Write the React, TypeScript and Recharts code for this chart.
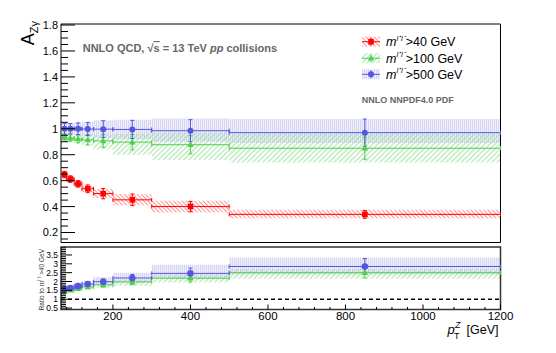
import React from 'react';
import { ComposedChart, Scatter, ErrorBar, XAxis, YAxis, ReferenceArea, ReferenceLine } from 'recharts';

// pT^Z bins [GeV]
const binLo = [70, 80, 100, 120, 150, 200, 300, 500];
const binHi = [80, 100, 120, 150, 200, 300, 500, 1200];
const binMid = [75, 90, 110, 135, 175, 250, 400, 850];

// A_Zgamma, top panel
const m40 = [0.647, 0.612, 0.575, 0.537, 0.5, 0.452, 0.4, 0.34];
const m40Err = [0.025, 0.025, 0.025, 0.03, 0.04, 0.045, 0.04, 0.03];
const m40BandLo = [0.62, 0.585, 0.55, 0.51, 0.465, 0.41, 0.355, 0.31];
const m40BandHi = [0.675, 0.64, 0.6, 0.565, 0.535, 0.495, 0.445, 0.375];

const m100 = [0.933, 0.928, 0.922, 0.915, 0.907, 0.897, 0.877, 0.85];
const m100Err = [0.02, 0.025, 0.03, 0.04, 0.05, 0.06, 0.07, 0.085];
const m100BandLo = [0.9, 0.895, 0.885, 0.87, 0.84, 0.8, 0.76, 0.74];
const m100BandHi = [0.955, 0.955, 0.955, 0.955, 0.955, 0.96, 0.97, 0.96];

const m500 = [1.0, 1.0, 1.0, 0.998, 0.997, 0.995, 0.985, 0.97];
const m500Err = [0.04, 0.04, 0.045, 0.05, 0.065, 0.07, 0.085, 0.105];
const m500BandLo = [0.96, 0.955, 0.95, 0.94, 0.93, 0.92, 0.9, 0.89];
const m500BandHi = [1.04, 1.045, 1.05, 1.055, 1.065, 1.07, 1.08, 1.075];

// ratio to m_ll > 40 GeV, bottom panel
const r100 = [1.44, 1.51, 1.6, 1.7, 1.81, 1.98, 2.19, 2.5];
const r100Err = [0.06, 0.07, 0.08, 0.1, 0.12, 0.15, 0.22, 0.3];
const r100BandLo = [1.3, 1.38, 1.45, 1.55, 1.65, 1.75, 1.95, 2.15];
const r100BandHi = [1.55, 1.62, 1.72, 1.82, 1.95, 2.1, 2.4, 2.7];

const r500 = [1.55, 1.63, 1.74, 1.86, 1.99, 2.2, 2.46, 2.85];
const r500Err = [0.08, 0.08, 0.1, 0.12, 0.15, 0.2, 0.3, 0.45];
const r500BandLo = [1.4, 1.45, 1.55, 1.65, 1.8, 1.95, 2.15, 2.4];
const r500BandHi = [1.7, 1.8, 1.95, 2.05, 2.25, 2.5, 2.95, 3.35];

// axis ticks
const xMajor = [200, 400, 600, 800, 1000, 1200];
const topYMajor = [0.2, 0.4, 0.6, 0.8, 1, 1.2, 1.4, 1.6, 1.8];
const ratioYMajor = [0.5, 1, 1.5, 2, 2.5, 3, 3.5];

const X_DOM: [number, number] = [66, 1200];
const TOP_DOM: [number, number] = [0.123, 1.808];
const RAT_DOM: [number, number] = [0.42, 3.95];

const FONT = "'Liberation Sans', Arial, Helvetica, sans-serif";
const RED = '#ff0000';
const GREEN = '#4fcf4f';
const BLUE = '#5555dd';
const TM = 3;

const stepTicks = (lo: number, hi: number, step: number) => {
  const out: number[] = [];
  for (let v = Math.ceil(lo / step - 1e-6) * step; v <= hi + 1e-9; v += step) out.push(+v.toFixed(4));
  return out;
};
const isMajor = (majors: number[], v: number) => majors.some((m) => Math.abs(m - v) < 1e-6);

const toRows = (vals: number[], errs: number[]) =>
  binMid.map((x, i) => ({ x, y: vals[i], ex: [x - binLo[i], binHi[i] - x], ey: errs[i] }));

const yTick = (majors: number[], majLen: number, minLen: number, fs: number) => (p: any) => {
  const v = p.payload.value;
  const major = isMajor(majors, v);
  const ax = p.x + TM;
  return (
    <g>
      <line x1={ax} x2={ax + (major ? majLen : minLen)} y1={p.y} y2={p.y} stroke="#000" strokeWidth={1} />
      {major && (
        <text x={ax - 3} y={p.y} dy="0.36em" textAnchor="end" fontSize={fs} fontFamily={FONT} fill="#000">
          {String(v)}
        </text>
      )}
    </g>
  );
};

const xTick = (labels: boolean) => (p: any) => {
  const v = p.payload.value;
  const major = isMajor(xMajor, v);
  const ay = p.y - TM;
  return (
    <g>
      <line x1={p.x} x2={p.x} y1={ay} y2={ay - (major ? 5 : 2.5)} stroke="#000" strokeWidth={1} />
      {labels && major && (
        <text x={p.x} y={ay + 10} textAnchor="middle" fontSize={11.5} fontFamily={FONT} fill="#000">
          {v}
        </text>
      )}
    </g>
  );
};

const square = (c: string) => (p: any) => <rect x={p.cx - 2.8} y={p.cy - 2.8} width={5.6} height={5.6} fill={c} />;
const triangle = (c: string) => (p: any) => (
  <polygon points={`${p.cx},${p.cy - 3.4} ${p.cx - 3.2},${p.cy + 2.3} ${p.cx + 3.2},${p.cy + 2.3}`} fill={c} />
);
const circle = (c: string, r: number) => (p: any) => <circle cx={p.cx} cy={p.cy} r={r} fill={c} />;

const bands = (lo: number[], hi: number[], fill: string, key: string) =>
  binLo.map((x1, i) => (
    <ReferenceArea key={key + i} x1={x1} x2={binHi[i]} y1={lo[i]} y2={hi[i]} fill={fill} fillOpacity={1} stroke="none" />
  ));

const points = (rows: any[], color: string, shape: any) => (
  <Scatter data={rows} dataKey="y" isAnimationActive={false} shape={shape}>
    <ErrorBar dataKey="ex" direction="x" width={2} stroke={color} strokeWidth={1} />
    <ErrorBar dataKey="ey" direction="y" width={2} stroke={color} strokeWidth={1} />
  </Scatter>
);

const Patterns = () => (
  <svg width={0} height={0} style={{ position: 'absolute' }}>
    <defs>
      <pattern id="hRed" width={3} height={3} patternUnits="userSpaceOnUse" patternTransform="rotate(-45)">
        <line x1={1.5} y1={0} x2={1.5} y2={3} stroke="#ff8585" strokeWidth={0.9} />
      </pattern>
      <pattern id="hGreen" width={3.6} height={3.6} patternUnits="userSpaceOnUse" patternTransform="rotate(45)">
        <line x1={1.8} y1={0} x2={1.8} y2={3.6} stroke="#93dc93" strokeWidth={0.9} />
      </pattern>
      <pattern id="hBlue" width={2} height={2} patternUnits="userSpaceOnUse">
        <rect width={2} height={2} fill="#f0f0fc" />
        <line x1={0.5} y1={0} x2={0.5} y2={2} stroke="#d6d6f4" strokeWidth={1} />
      </pattern>
    </defs>
  </svg>
);

const TopPanel = () => (
  <ComposedChart width={556} height={246} margin={{ top: 24, right: 55.5, bottom: 3.5, left: 60 }}>
    <XAxis type="number" dataKey="x" domain={X_DOM} allowDataOverflow height={0} axisLine={false} tickLine={false} tick={false} />
    <YAxis
      type="number"
      dataKey="y"
      domain={TOP_DOM}
      allowDataOverflow
      width={1}
      axisLine={false}
      tickLine={false}
      tickSize={0}
      tickMargin={TM}
      interval={0}
      ticks={stepTicks(TOP_DOM[0], TOP_DOM[1], 0.05)}
      tick={yTick(topYMajor, 14, 7, 11)}
    />
    {bands(m500BandLo, m500BandHi, 'url(#hBlue)', 'b')}
    {bands(m100BandLo, m100BandHi, 'url(#hGreen)', 'g')}
    {bands(m40BandLo, m40BandHi, 'url(#hRed)', 'r')}
    {points(toRows(m40, m40Err), RED, square(RED))}
    {points(toRows(m100, m100Err), GREEN, triangle(GREEN))}
    {points(toRows(m500, m500Err), BLUE, circle(BLUE, 3))}
    <ReferenceArea x1={X_DOM[0]} x2={X_DOM[1]} y1={TOP_DOM[0]} y2={TOP_DOM[1]} fill="none" stroke="#000" strokeWidth={1} />
  </ComposedChart>
);

const RatioPanel = () => (
  <ComposedChart width={556} height={113} margin={{ top: 7, right: 55.5, bottom: 42.5, left: 60 }}>
    <XAxis
      type="number"
      dataKey="x"
      domain={X_DOM}
      allowDataOverflow
      height={1}
      axisLine={false}
      tickLine={false}
      tickSize={0}
      tickMargin={TM}
      interval={0}
      ticks={stepTicks(80, 1200, 40)}
      tick={xTick(true)}
    />
    <YAxis
      type="number"
      dataKey="y"
      domain={RAT_DOM}
      allowDataOverflow
      width={1}
      axisLine={false}
      tickLine={false}
      tickSize={0}
      tickMargin={TM}
      interval={0}
      ticks={stepTicks(RAT_DOM[0], RAT_DOM[1], 0.1)}
      tick={yTick(ratioYMajor, 11, 5, 8.5)}
    />
    {bands(r500BandLo, r500BandHi, 'url(#hBlue)', 'b')}
    {bands(r100BandLo, r100BandHi, 'url(#hGreen)', 'g')}
    <ReferenceLine y={1} stroke="#000" strokeWidth={1.4} strokeDasharray="4 3" />
    {points(toRows(r100, r100Err), GREEN, triangle(GREEN))}
    {points(toRows(r500, r500Err), BLUE, circle(BLUE, 3.3))}
    <ReferenceArea x1={X_DOM[0]} x2={X_DOM[1]} y1={RAT_DOM[0]} y2={RAT_DOM[1]} fill="none" stroke="#333" strokeWidth={1.5} />
  </ComposedChart>
);

const legendRows = [
  { y: 41.7, color: RED, fill: 'url(#hRed)', label: '>40 GeV', kind: 'sq' },
  { y: 58.3, color: GREEN, fill: 'url(#hGreen)', label: '>100 GeV', kind: 'tri' },
  { y: 74.3, color: BLUE, fill: 'url(#hBlue)', label: '>500 GeV', kind: 'circ' },
];

const Overlay = () => (
  <svg width={556} height={353} style={{ position: 'absolute', left: 0, top: 0, pointerEvents: 'none' }} fontFamily={FONT}>
    <g transform="translate(33.5,21) rotate(-90)">
      <text x={0} y={0} textAnchor="end" fontSize={18} fill="#000">
        A<tspan fontSize={11} dy={4.5}>Zγ</tspan>
      </text>
    </g>
    <text x={82.7} y={52} fontSize={11} fontWeight="bold" fill="#666">
      NNLO QCD,{'  '}√<tspan textDecoration="overline">s</tspan> = 13 TeV{'  '}
      <tspan fontStyle="italic">pp</tspan> collisions
    </text>
    <text x={361.7} y={103} fontSize={9} fontWeight="bold" fill="#666">
      NNLO NNPDF4.0 PDF
    </text>
    {legendRows.map((r) => (
      <g key={r.label}>
        <rect x={362} y={r.y - 5} width={18} height={10} fill={r.fill} />
        <line x1={362} x2={380} y1={r.y} y2={r.y} stroke={r.color} strokeWidth={1} />
        <line x1={371} x2={371} y1={r.y - 4} y2={r.y + 4} stroke={r.color} strokeWidth={1} />
        {r.kind === 'sq' && <rect x={368.2} y={r.y - 2.8} width={5.6} height={5.6} fill={r.color} />}
        {r.kind === 'tri' && (
          <polygon points={`371,${r.y - 3.4} 367.8,${r.y + 2.3} 374.2,${r.y + 2.3}`} fill={r.color} />
        )}
        {r.kind === 'circ' && <circle cx={371} cy={r.y} r={3} fill={r.color} />}
        <text x={386} y={r.y + 4.5} fontSize={12.5} fill="#000">
          <tspan fontStyle="italic">m</tspan>
          <tspan fontSize={7.5} dy={-5.5} fontStyle="italic">l⁺l⁻</tspan>
          <tspan dy={5.5}>{r.label}</tspan>
        </text>
      </g>
    ))}
    <g transform="translate(43.5,249) rotate(-90)">
      <text x={0} y={0} textAnchor="end" fontSize={6.5} fill="#333">
        Ratio to <tspan fontStyle="italic">m</tspan>
        <tspan fontSize={4.5} dy={-2.5}>l⁺l⁻</tspan>
        <tspan dy={2.5}>{'>40 GeV'}</tspan>
      </text>
    </g>
    <text x={447.5} y={333.5} fontSize={13} fontStyle="italic" fill="#000">p</text>
    <text x={455} y={327.5} fontSize={9} fontStyle="italic" fill="#000">Z</text>
    <text x={454} y={339} fontSize={9} fill="#000">T</text>
    <text x={498.5} y={333.5} textAnchor="end" fontSize={12.5} fill="#000">[GeV]</text>
  </svg>
);

export default function App() {
  return (
    <div style={{ position: 'absolute', left: 0, top: 0, width: 556, height: 353, background: '#fff', overflow: 'hidden' }}>
      <Patterns />
      <div style={{ position: 'absolute', left: 0, top: 0 }}>
        <TopPanel />
      </div>
      <div style={{ position: 'absolute', left: 0, top: 240 }}>
        <RatioPanel />
      </div>
      <Overlay />
    </div>
  );
}
